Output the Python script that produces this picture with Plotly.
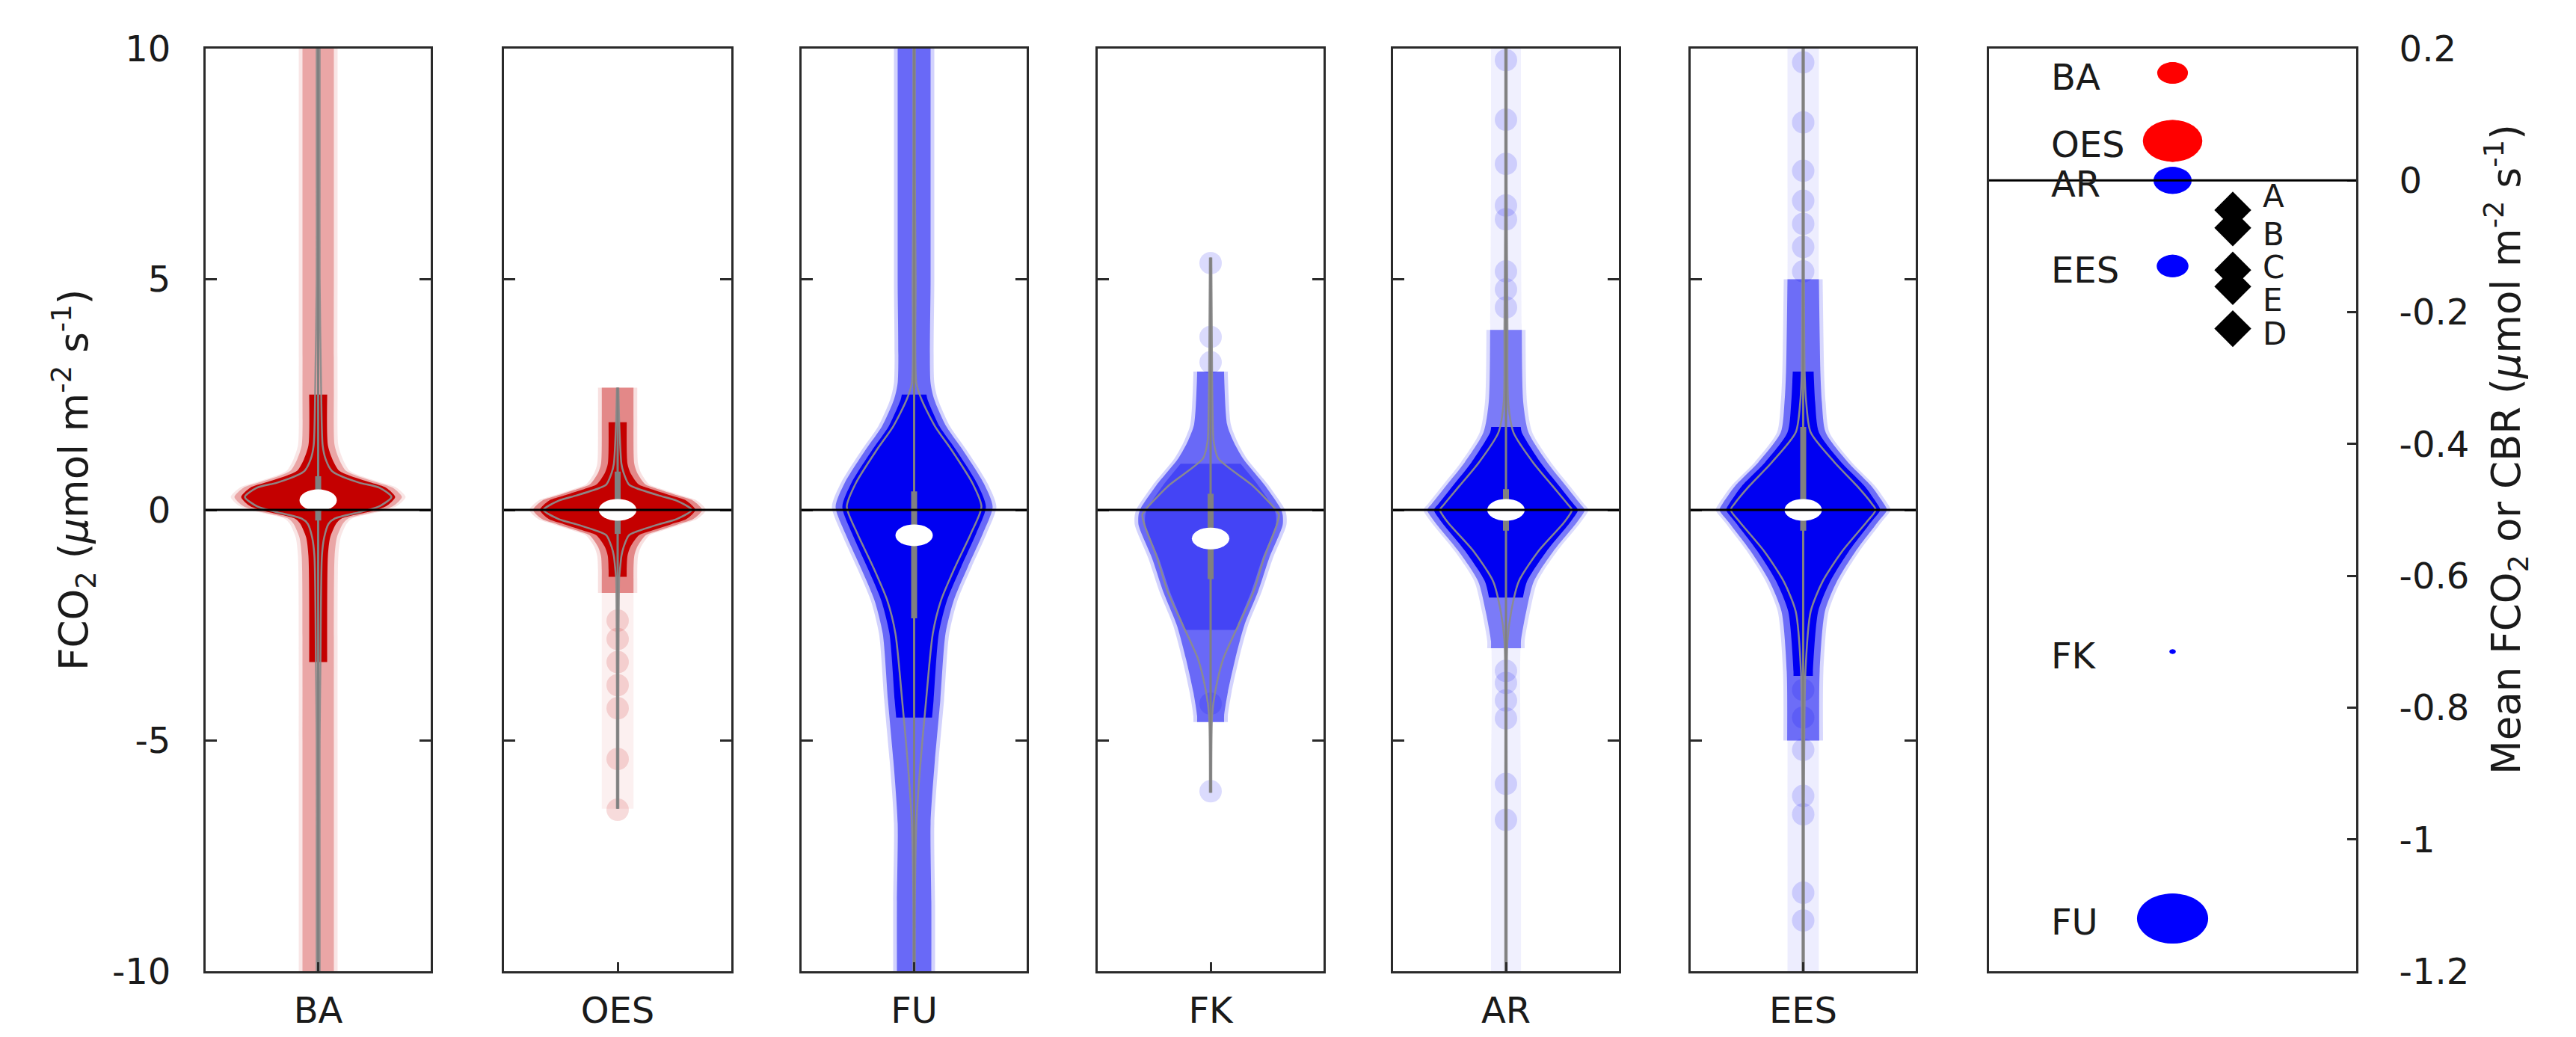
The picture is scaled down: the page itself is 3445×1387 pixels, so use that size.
import numpy as np
import plotly.graph_objects as go

W, H = 3445, 1387

# ---------------- data ----------------
categories = ["BA", "OES", "FU", "FK", "AR", "EES"]

# violin profiles: y levels, outer point-cloud half-width, KDE half-width (x unit = 1/3 of a panel width)
ba_y = [-10, -7.5, -5, -3.4, -1.0, -0.6, -0.3, -0.19, -0.03, 0.08, 0.28, 0.48, 0.59, 0.75, 0.85, 1.1, 1.4, 2.6, 5, 7.5, 10]
ba_env = [0.21, 0.21, 0.21, 0.21, 0.22, 0.25, 0.33, 0.40, 0.80, 1.00, 1.12, 1.00, 0.80, 0.50, 0.37, 0.28, 0.22, 0.21, 0.21, 0.21, 0.21]
ba_kde = [0.02, 0.02, 0.02, 0.03, 0.05, 0.08, 0.14, 0.22, 0.60, 0.82, 0.98, 0.82, 0.55, 0.28, 0.18, 0.10, 0.06, 0.04, 0.02, 0.02, 0.02]

oes_y = [-6.5, -4, -1.5, -1.3, -1.0, -0.8, -0.55, -0.47, -0.31, -0.2, 0.0, 0.2, 0.31, 0.47, 0.55, 0.8, 1.0, 1.95, 2.65]
oes_env = [0.21, 0.21, 0.21, 0.21, 0.22, 0.26, 0.37, 0.50, 0.80, 1.00, 1.12, 1.00, 0.80, 0.50, 0.37, 0.26, 0.22, 0.21, 0.21]
oes_kde = [0.01, 0.01, 0.02, 0.03, 0.05, 0.08, 0.15, 0.25, 0.55, 0.78, 0.98, 0.78, 0.55, 0.25, 0.15, 0.08, 0.05, 0.02, 0.01]

fu_y = [-10, -8.5, -6.8, -5.58, -4.13, -2.68, -1.96, -1.23, -0.51, 0.07, 0.58, 1.30, 1.81, 2.39, 2.75, 5, 7.5, 10]
fu_env = [0.23, 0.23, 0.22, 0.27, 0.35, 0.42, 0.53, 0.72, 0.92, 1.05, 0.93, 0.65, 0.43, 0.27, 0.22, 0.22, 0.22, 0.22]
fu_kde = [0.01, 0.01, 0.03, 0.08, 0.16, 0.25, 0.36, 0.55, 0.76, 0.90, 0.78, 0.50, 0.28, 0.10, 0.03, 0.02, 0.01, 0.01]

fk_y = [-6.13, -4.46, -3.95, -3.22, -2.5, -1.78, -1.05, -0.33, -0.1, 0.04, 0.54, 1.12, 1.5, 1.85, 2.93, 5.47]
fk_env = [0.18, 0.18, 0.23, 0.33, 0.45, 0.63, 0.78, 0.96, 0.96, 0.93, 0.72, 0.43, 0.30, 0.22, 0.18, 0.18]
fk_kde = [0.01, 0.02, 0.06, 0.17, 0.37, 0.57, 0.71, 0.88, 0.91, 0.85, 0.55, 0.10, 0.04, 0.03, 0.02, 0.01]

ar_y = [-10, -6, -2.84, -2.2, -1.55, -0.9, -0.26, 0.0, 0.13, 0.52, 1.03, 1.68, 2.33, 4, 7, 10]
ar_env = [0.20, 0.20, 0.20, 0.27, 0.37, 0.63, 0.95, 1.05, 0.99, 0.80, 0.55, 0.30, 0.23, 0.21, 0.20, 0.20]
ar_kde = [0.01, 0.01, 0.02, 0.07, 0.17, 0.43, 0.78, 0.88, 0.82, 0.62, 0.36, 0.10, 0.03, 0.02, 0.01, 0.01]

ees_y = [-10, -6.5, -3.5, -2.2, -1.55, -0.9, -0.26, 0.0, 0.13, 0.52, 1.03, 1.68, 2.33, 2.97, 5, 7.5, 10]
ees_env = [0.21, 0.21, 0.22, 0.29, 0.45, 0.70, 1.00, 1.12, 1.08, 0.91, 0.60, 0.30, 0.25, 0.23, 0.21, 0.21, 0.21]
ees_kde = [0.01, 0.01, 0.03, 0.10, 0.26, 0.52, 0.85, 0.97, 0.92, 0.72, 0.42, 0.10, 0.04, 0.02, 0.01, 0.01, 0.01]

# isolated sparse points in the tails
ba_out = []
oes_out = [-2.4, -2.8, -3.3, -3.8, -4.3, -5.4, -6.5]
fu_out = []
fk_out = [5.35, 3.75, 3.2, -4.2, -6.1]
ar_out = [9.75, 8.46, 7.5, 6.6, 6.3, 5.17, 4.78, 4.39, -3.49, -3.75, -4.13, -4.52, -5.94, -6.72]
ees_out = [9.7, 8.4, 7.35, 6.7, 6.2, 5.7, 5.17, -3.9, -4.5, -5.2, -6.2, -6.6, -8.3, -8.9]

medians = [0.21, 0.0, -0.55, -0.62, 0.0, 0.0]
box_q1 = [-0.23, -0.52, -2.35, -1.5, -0.45, -0.45]
box_q3 = [0.73, 0.83, 0.40, 0.35, 0.45, 1.8]
whisker_lo = [-10, -6.48, -10, -6.13, -10, -10]
whisker_hi = [10, 2.65, 10, 5.47, 10, 10]

# extents of the dense point cloud and of the opaque core
cloud_lo = [-10, -1.8, -10, -4.6, -3.0, -5.0]
cloud_hi = [10, 2.7, 10, 3.0, 3.9, 5.0]
solid_lo = [-3.3, -1.45, -4.5, -2.6, -1.9, -3.6]
solid_hi = [2.5, 1.9, 2.5, 1.0, 1.8, 3.0]

y_ticks = [-10, -5, 0, 5, 10]
y_tick_text = ["-10", "-5", "0", "5", "10"]

# right panel: mean FCO2 of each site and CBR letters
mean_labels = ["BA", "OES", "AR", "EES", "FK", "FU"]
mean_values = [0.163, 0.06, 0.0, -0.13, -0.715, -1.12]
mean_weight = [29, 56, 36, 30, 6, 67]
cbr_labels = ["A", "B", "C", "E", "D"]
cbr_values = [-0.045, -0.072, -0.136, -0.161, -0.225]
r_ticks = [0.2, 0, -0.2, -0.4, -0.6, -0.8, -1, -1.2]
r_tick_text = ["0.2", "0", "-0.2", "-0.4", "-0.6", "-0.8", "-1", "-1.2"]

# ---------------- styles ----------------
RED = (196, 0, 0)
BLUE = (0, 0, 242)
panel_rgb = [RED, RED, BLUE, BLUE, BLUE, BLUE]
cloud_alpha = [0.28, 0.35, 0.5, 0.5, 0.4, 0.45]
solid_alpha = [1, 1, 1, 0.35, 1, 1]
tail_alpha = [0, 0.06, 0, 0, 0.06, 0.07]
mean_colors = ["#ff0000", "#ff0000", "#0000ff", "#0000ff", "#0000ff", "#0000ff"]
letter_shift = [18, -9, 4, -18, -7]
STRETCH = 1.42  # horizontal stretch of round marks in the reference

panel_px = [(275, 576), (674, 978), (1072, 1373), (1468, 1770), (1863, 2165), (2261, 2562)]
right_px = (2660, 3151)
TOP, BOT = 65, 1299
FONT = "DejaVu Sans, Verdana, sans-serif"
TXT = "#1a1a1a"
AX = "#2a2a2a"
TICK_SIZE = 48

profiles = list(zip([ba_y, oes_y, fu_y, fk_y, ar_y, ees_y],
                    [ba_env, oes_env, fu_env, fk_env, ar_env, ees_env],
                    [ba_kde, oes_kde, fu_kde, fk_kde, ar_kde, ees_kde]))
outliers = [ba_out, oes_out, fu_out, fk_out, ar_out, ees_out]


def rgba(c, a):
    return "rgba(%d,%d,%d,%.3f)" % (c[0], c[1], c[2], a)


def ax_id(k):
    return "" if k == 1 else str(k)


def side(ys, ws, lo, hi, shrink=0.0):
    ys = np.asarray(ys, float)
    ws = np.asarray(ws, float)
    lo = max(lo, ys[0])
    hi = min(hi, ys[-1])
    m = (ys > lo) & (ys < hi)
    yy = np.concatenate([[lo], ys[m], [hi]])
    ww = np.concatenate([[np.interp(lo, ys, ws)], ws[m], [np.interp(hi, ys, ws)]])
    return yy, np.maximum(ww - shrink, 0.005)


def add_band(fig, ys, ws, lo, hi, color, xa, ya, shrink=0.0):
    yy, ww = side(ys, ws, lo, hi, shrink)
    fig.add_trace(go.Scatter(x=-ww, y=yy, mode="lines", line=dict(width=0, shape="spline", smoothing=0.7),
                             xaxis=xa, yaxis=ya, hoverinfo="skip", showlegend=False))
    fig.add_trace(go.Scatter(x=ww, y=yy, mode="lines", line=dict(width=0, shape="spline", smoothing=0.7),
                             fill="tonextx", fillcolor=color, xaxis=xa, yaxis=ya, hoverinfo="skip", showlegend=False))


fig = go.Figure()
shapes = []
annotations = []
layout = {}

for i, cat in enumerate(categories):
    k = i + 1
    xa, ya = "x" + ax_id(k), "y" + ax_id(k)
    ys, env, kde = profiles[i]
    col = panel_rgb[i]
    if tail_alpha[i] > 0:
        add_band(fig, ys, env, whisker_lo[i], whisker_hi[i], rgba(col, tail_alpha[i]), xa, ya)
    # soft outer glow of the point cloud, then the cloud, then the dense core
    add_band(fig, ys, env, cloud_lo[i], cloud_hi[i], rgba(col, cloud_alpha[i] * 0.35), xa, ya, shrink=-0.05)
    add_band(fig, ys, env, cloud_lo[i], cloud_hi[i], rgba(col, cloud_alpha[i]), xa, ya)
    add_band(fig, ys, env, solid_lo[i], solid_hi[i], rgba(col, solid_alpha[i]), xa, ya, shrink=0.09)
    if outliers[i]:
        fig.add_trace(go.Scatter(x=[0] * len(outliers[i]), y=outliers[i], mode="markers",
                                 marker=dict(size=30, color=rgba(col, 0.14), line=dict(width=0), opacity=1),
                                 xaxis=xa, yaxis=ya, hoverinfo="skip", showlegend=False))
    # KDE outline (both sides)
    ky, kw = side(ys, kde, whisker_lo[i], whisker_hi[i])
    for sgn in (1, -1):
        fig.add_trace(go.Scatter(x=sgn * kw, y=ky, mode="lines",
                                 line=dict(color="rgba(140,140,140,0.95)", width=2.5, shape="spline", smoothing=0.7),
                                 xaxis=xa, yaxis=ya, hoverinfo="skip", showlegend=False))
    # whisker and box
    fig.add_trace(go.Scatter(x=[0, 0], y=[whisker_lo[i], whisker_hi[i]], mode="lines",
                             line=dict(color="rgb(128,128,128)", width=3), xaxis=xa, yaxis=ya,
                             hoverinfo="skip", showlegend=False))
    fig.add_trace(go.Scatter(x=[0, 0], y=[box_q1[i], box_q3[i]], mode="lines",
                             line=dict(color="rgb(128,128,128)", width=8), xaxis=xa, yaxis=ya,
                             hoverinfo="skip", showlegend=False))
    # median (white, stretched like the reference)
    shapes.append(dict(type="circle", xref=xa, yref=ya, x0=-0.25, x1=0.25,
                       y0=medians[i] - 0.235, y1=medians[i] + 0.235,
                       fillcolor="white", line=dict(width=0), layer="above"))

    x0, x1 = panel_px[i]
    layout["xaxis" + ax_id(k)] = dict(domain=[x0 / W, x1 / W], range=[-1.505, 1.505], anchor=ya,
                                      tickvals=[0], ticktext=[cat], ticks="inside", ticklen=12, tickwidth=3,
                                      tickcolor=AX, showline=True, linecolor=AX, linewidth=3, mirror=True,
                                      showgrid=False, zeroline=False, automargin=False,
                                      tickfont=dict(family=FONT, size=TICK_SIZE, color=TXT),
                                      ticklabelstandoff=8, fixedrange=True)
    layout["yaxis" + ax_id(k)] = dict(domain=[1 - BOT / H, 1 - TOP / H], range=[-10, 10], anchor=xa,
                                      tickvals=y_ticks, ticktext=y_tick_text, ticks="inside", ticklen=15,
                                      tickwidth=3, tickcolor=AX, showticklabels=(k == 1), showline=True,
                                      linecolor=AX, linewidth=3, mirror="ticks", showgrid=False, zeroline=False,
                                      automargin=False, tickfont=dict(family=FONT, size=TICK_SIZE, color=TXT),
                                      ticklabelstandoff=34, fixedrange=True)

for i in range(len(categories)):
    k = i + 1
    shapes.append(dict(type="line", xref="x%s domain" % ax_id(k), yref="y" + ax_id(k), x0=0, x1=1, y0=0, y1=0,
                       line=dict(color="black", width=3), layer="above"))

# ---------------- right panel ----------------
rw = right_px[1] - right_px[0]
py_per_unit = (BOT - TOP) / 1.4
CX, DX, LX, TX = 0.50, 0.664, 0.165, 0.741
for v, s, c in zip(mean_values, mean_weight, mean_colors):
    hw = s * STRETCH / 2 / rw
    hh = s / 2 / py_per_unit
    shapes.append(dict(type="circle", xref="x7", yref="y7", x0=CX - hw, x1=CX + hw, y0=v - hh, y1=v + hh,
                       fillcolor=c, line=dict(width=0), layer="below"))
fig.add_trace(go.Scatter(x=[CX] * len(mean_values), y=mean_values, mode="markers",
                         marker=dict(size=mean_weight, color=mean_colors, line=dict(width=0), opacity=1),
                         xaxis="x7", yaxis="y7", hoverinfo="skip", showlegend=False))
fig.add_trace(go.Scatter(x=[DX] * len(cbr_values), y=cbr_values, mode="markers",
                         marker=dict(size=38, symbol="diamond", color="black", line=dict(width=0), opacity=1),
                         xaxis="x7", yaxis="y7", hoverinfo="skip", showlegend=False))
for lab, v in zip(mean_labels, mean_values):
    annotations.append(dict(x=LX, y=v, xref="x7", yref="y7", text=lab, showarrow=False, xanchor="left",
                            yanchor="middle", yshift=-5, font=dict(family=FONT, size=TICK_SIZE, color=TXT)))
for lab, v, s in zip(cbr_labels, cbr_values, letter_shift):
    annotations.append(dict(x=TX, y=v, xref="x7", yref="y7", text=lab, showarrow=False, xanchor="left",
                            yanchor="middle", yshift=s, font=dict(family=FONT, size=42, color=TXT)))
shapes.append(dict(type="line", xref="x7 domain", yref="y7", x0=0, x1=1, y0=0, y1=0,
                   line=dict(color="black", width=3), layer="above"))

layout["xaxis7"] = dict(domain=[right_px[0] / W, right_px[1] / W], range=[0, 1], anchor="y7", showticklabels=False,
                        ticks="", showline=True, linecolor=AX, linewidth=3, mirror=True, showgrid=False,
                        zeroline=False, automargin=False, fixedrange=True)
layout["yaxis7"] = dict(domain=[1 - BOT / H, 1 - TOP / H], range=[-1.2, 0.2], anchor="x7", side="right",
                        tickvals=r_ticks, ticktext=r_tick_text, ticks="inside", ticklen=12, tickwidth=3,
                        tickcolor=AX, showline=True, linecolor=AX, linewidth=3, mirror=True, showgrid=False,
                        zeroline=False, automargin=False, tickfont=dict(family=FONT, size=TICK_SIZE, color=TXT),
                        ticklabelstandoff=45, fixedrange=True)

# axis titles
annotations.append(dict(x=99 / W, y=1 - 642 / H, xref="paper", yref="paper", showarrow=False, textangle=-90,
                        xanchor="center", yanchor="middle",
                        text="FCO<sub>2</sub> (<i>μ</i>mol m<sup>-2</sup> s<sup>-1</sup>)",
                        font=dict(family=FONT, size=53, color=TXT)))
annotations.append(dict(x=3352 / W, y=1 - 601 / H, xref="paper", yref="paper", showarrow=False, textangle=-90,
                        xanchor="center", yanchor="middle",
                        text="Mean FCO<sub>2</sub> or CBR (<i>μ</i>mol m<sup>-2</sup> s<sup>-1</sup>)",
                        font=dict(family=FONT, size=53, color=TXT)))

fig.update_layout(width=W, height=H, margin=dict(l=0, r=0, t=0, b=0, autoexpand=False), paper_bgcolor="white",
                  plot_bgcolor="white", shapes=shapes, annotations=annotations, showlegend=False, **layout)

fig.write_html("out.html")
